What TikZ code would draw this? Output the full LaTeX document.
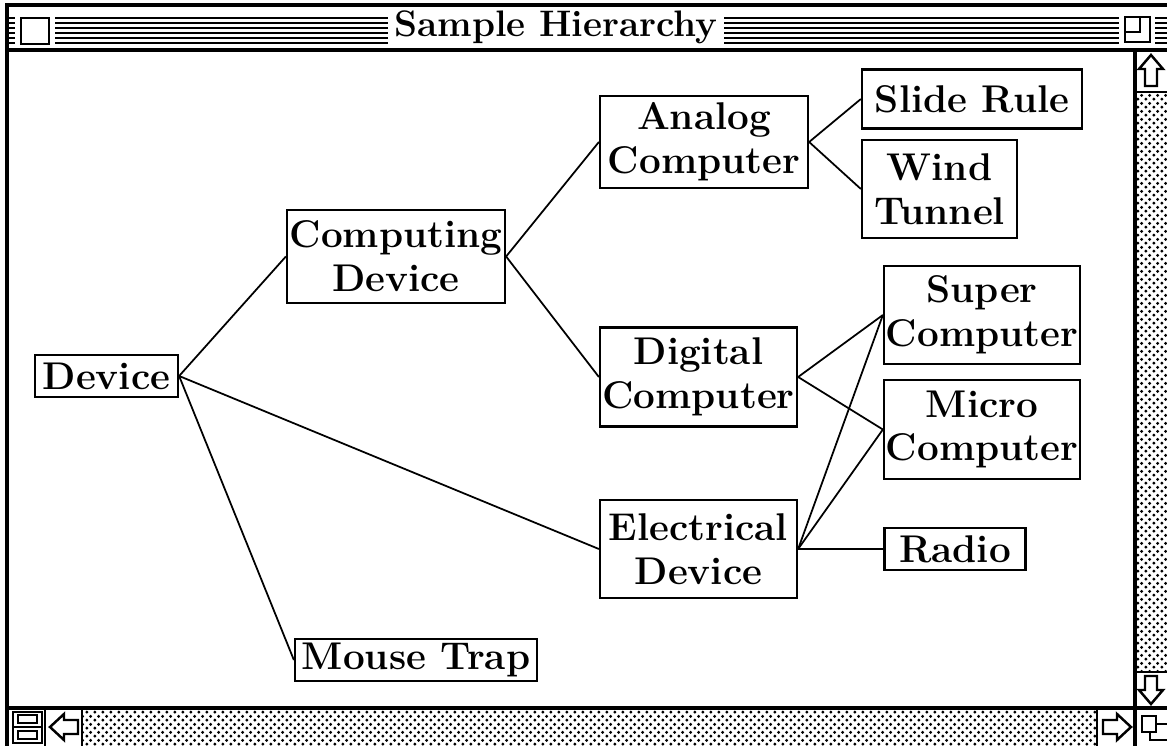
\documentclass[tikz,border=0pt]{standalone}
\usepackage{amsmath}
\usetikzlibrary{patterns}
\pgfdeclarepatternformonly{macdots}{\pgfqpoint{0pt}{0pt}}{\pgfqpoint{4.4pt}{4.4pt}}{\pgfqpoint{4.4pt}{4.4pt}}{%
	\pgfpathcircle{\pgfqpoint{1.1pt}{1.1pt}}{0.95pt}
	\pgfpathcircle{\pgfqpoint{3.3pt}{3.3pt}}{0.95pt}
	\pgfusepath{fill}}
\tikzset{
	box/.style={draw, line width=1.3pt, align=center, inner sep=0pt, font=\fontsize{22}{25}\selectfont\bfseries},
	link/.style={line width=1pt},
	frame/.style={line width=2pt},
	stripe/.style={line width=1.3pt},
	bar/.style={pattern=macdots, pattern color=black},
}

\begin{document}
\begin{tikzpicture}[x=0.02cm, y=-0.02cm]
			\useasboundingbox (0,0) rectangle (1167,746);
			% window and title bar
			\foreach \y in {18,23,28,33,38,43}
				\draw[stripe] (9,\y) -- (1167,\y);
			\fill[white] (15,12) rectangle (55,48);
			\fill[white] (1119,11) rectangle (1155,48);
			\draw[line width=1.4pt] (21,18) rectangle (49,44);
			\draw[line width=1.4pt] (1125,17) rectangle (1150,42);
			\draw[line width=1.4pt] (1125,17) rectangle (1140,32);
			\node[fill=white, minimum width=6.46cm, minimum height=0.8cm, font=\fontsize{21}{25}\selectfont\bfseries] (title) at (556,27) {Sample Hierarchy};
			\draw[frame] (7,746) -- (7,5) -- (1167,5);
			\draw[frame] (7,50) -- (1167,50);
			% scroll bars
			\fill[bar] (1135,92) rectangle (1167,672);
			\fill[bar] (82,708) rectangle (1097,746);
			\draw[frame] (1135,50) -- (1135,746);
			\draw[frame] (7,708) -- (1167,708);
			\draw[line width=1.4pt] (1135,92) -- (1167,92) (1135,672) -- (1167,672);
			\draw[line width=1.4pt] (45,708) -- (45,746) (82,708) -- (82,746) (1097,708) -- (1097,746);
			\draw[line width=1.4pt] (1151,55) -- (1139,69) -- (1145,69) -- (1145,86) -- (1157,86) -- (1157,69) -- (1163,69) -- cycle;
			\draw[line width=1.4pt] (1151,704) -- (1139,690) -- (1145,690) -- (1145,676) -- (1157,676) -- (1157,690) -- (1163,690) -- cycle;
			\draw[line width=1.4pt] (50,727) -- (64,714) -- (64,720) -- (78,720) -- (78,734) -- (64,734) -- (64,740) -- cycle;
			\draw[line width=1.4pt] (1131,727) -- (1117,714) -- (1117,720) -- (1103,720) -- (1103,734) -- (1117,734) -- (1117,740) -- cycle;
			\draw[line width=1.4pt] (13,712) rectangle (42,743) (13,727) -- (42,727);
			\draw[line width=1.1pt] (18,731) rectangle (37,739) (18,715) rectangle (37,723);
			\draw[line width=1.4pt] (1142,716) rectangle (1156,732);
			\draw[line width=1.4pt] (1150,732) -- (1150,740) -- (1167,740) (1156,724) -- (1167,724);
			% hierarchy
			\node[box, minimum width=2.86cm, minimum height=0.84cm] (device) at (106.5,376) {Device};
			\node[box, minimum width=4.36cm, minimum height=1.86cm] (computing) at (396,256.5) {Computing\\Device};
			\node[box, minimum width=4.16cm, minimum height=1.84cm] (analog) at (704,142) {Analog\\Computer};
			\node[box, minimum width=4.4cm, minimum height=1.18cm] (sliderule) at (972,99) {Slide Rule};
			\node[box, minimum width=3.1cm, minimum height=1.96cm] (windtunnel) at (939.5,189) {Wind\\Tunnel};
			\node[box, minimum width=3.94cm, minimum height=1.98cm] (digital) at (698.5,377) {Digital\\Computer};
			\node[box, minimum width=3.92cm, minimum height=1.96cm] (super) at (982,315) {Super\\Computer};
			\node[box, minimum width=3.92cm, minimum height=1.98cm] (micro) at (982,429.5) {Micro\\Computer};
			\node[box, minimum width=3.94cm, minimum height=1.96cm] (electrical) at (698.5,549) {Electrical\\Device};
			\node[box, minimum width=2.82cm, minimum height=0.84cm] (radio) at (955,549) {Radio};
			\node[box, minimum width=4.84cm, minimum height=0.84cm] (mousetrap) at (416,660) {Mouse Trap};
			\draw[link] (device.east) -- (computing.west);
			\draw[link] (device.east) -- (electrical.west);
			\draw[link] (device.east) -- (mousetrap.west);
			\draw[link] (computing.east) -- (analog.west);
			\draw[link] (computing.east) -- (digital.west);
			\draw[link] (analog.east) -- (sliderule.west);
			\draw[link] (analog.east) -- (windtunnel.west);
			\draw[link] (digital.east) -- (super.west);
			\draw[link] (digital.east) -- (micro.west);
			\draw[link] (electrical.east) -- (super.west);
			\draw[link] (electrical.east) -- (micro.west);
			\draw[link] (electrical.east) -- (radio.west);
		\end{tikzpicture}
\end{document}
